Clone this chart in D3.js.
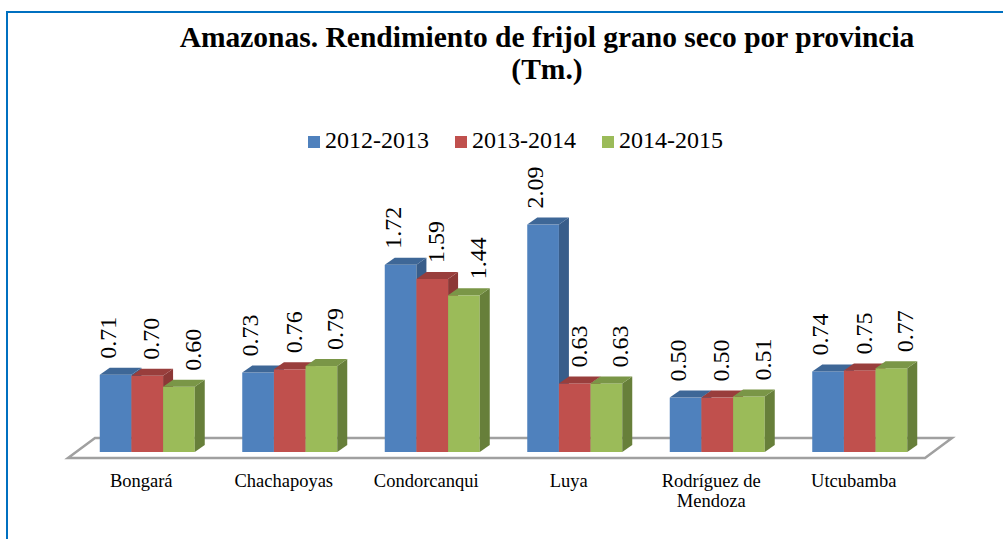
<!DOCTYPE html>
<html>
<head>
<meta charset="utf-8">
<script src="https://cdn.jsdelivr.net/npm/d3@7"></script>
<style>
  body { margin: 0; background: #fff; }
  #chart { width: 1003px; height: 539px; }
</style>
</head>
<body>
<div id="chart"></div>
<script>
// data
const provinces = ["Bongará", "Chachapoyas", "Condorcanqui", "Luya", "Rodríguez de Mendoza", "Utcubamba"];
const seasons = ["2012-2013", "2013-2014", "2014-2015"];
const yield1213 = [0.71, 0.73, 1.72, 2.09, 0.50, 0.74];
const yield1314 = [0.70, 0.76, 1.59, 0.63, 0.50, 0.75];
const yield1415 = [0.60, 0.79, 1.44, 0.63, 0.51, 0.77];
const titleLines = ["Amazonas. Rendimiento de frijol grano seco por provincia", "(Tm.)"];

const colors = {
    front: ["#4F81BD", "#C0504D", "#9BBB59"],
    top:   ["#3E6797", "#993E3C", "#7A9647"],
    side:  ["#385D8A", "#8C3836", "#677F3A"]
};
const serif = "'Liberation Serif'";

const width = 1003, height = 539;
const svg = d3.select("#chart").append("svg")
    .attr("width", width)
    .attr("height", height)
    .attr("font-family", serif);

// outer frame
svg.append("rect")
    .attr("x", 7).attr("y", 12)
    .attr("width", 1200).attr("height", 700)
    .attr("fill", "none")
    .attr("stroke", "#0070C0")
    .attr("stroke-width", 2);

// title
svg.append("g").selectAll("text")
    .data(titleLines)
    .enter().append("text")
    .attr("x", 547)
    .attr("y", (d, i) => 47 + i * 32)
    .attr("text-anchor", "middle")
    .attr("font-family", serif)
    .attr("font-size", 29.5)
    .attr("font-weight", "bold")
    .text(d => d);

// legend
const legend = svg.append("g").selectAll("g")
    .data(seasons)
    .enter().append("g")
    .attr("transform", (d, i) => `translate(${308 + i * 147},0)`);
legend.append("rect")
    .attr("x", 0).attr("y", 136)
    .attr("width", 12).attr("height", 12)
    .attr("fill", (d, i) => colors.front[i]);
legend.append("text")
    .attr("x", 17).attr("y", 148)
    .attr("font-family", serif)
    .attr("font-size", 24)
    .text(d => d);

// scales
const baseY = 452;
const xScale = d3.scaleBand()
    .domain(provinces)
    .range([76, 931]);
const groupW = xScale.bandwidth() * 2 / 3;
const xSub = d3.scaleBand()
    .domain(seasons)
    .range([xScale.bandwidth() / 6, xScale.bandwidth() / 6 + groupW]);
const yScale = d3.scaleLinear()
    .domain([0, 2.5])
    .range([baseY, baseY - 272]);

// floor
const [r0, r1] = xScale.range();
const floorPts = [[r0 - 8, 458], [r1 - 6, 458], [r1 + 21, 438], [r0 + 19, 438]];
svg.append("polygon")
    .attr("points", floorPts.map(p => p.join(",")).join(" "))
    .attr("fill", "#fff")
    .attr("stroke", "#A0A0A0")
    .attr("stroke-width", 2.5);

// rows
const series = [yield1213, yield1314, yield1415];
const rows = [];
provinces.forEach((p, i) => {
    seasons.forEach((s, j) => {
        rows.push({ province: p, season: s, s: j, value: series[j][i] });
    });
});

const dx = 10, dy = 7;
const bw = xSub.bandwidth();
const bx = d => xScale(d.province) + xSub(d.season);

const bars = svg.append("g").selectAll("g")
    .data(rows)
    .enter().append("g");

bars.append("rect")
    .attr("x", d => bx(d))
    .attr("y", d => yScale(d.value))
    .attr("width", bw)
    .attr("height", d => baseY - yScale(d.value))
    .attr("fill", d => colors.front[d.s]);

bars.append("polygon")
    .attr("points", d => {
        const x = bx(d) + bw, t = yScale(d.value);
        return [[x, t], [x + dx, t - dy], [x + dx, baseY - dy], [x, baseY]].map(p => p.join(",")).join(" ");
    })
    .attr("fill", d => colors.side[d.s]);

bars.append("polygon")
    .attr("points", d => {
        const x = bx(d), t = yScale(d.value);
        return [[x, t], [x + dx, t - dy], [x + bw + dx, t - dy], [x + bw, t]].map(p => p.join(",")).join(" ");
    })
    .attr("fill", d => colors.top[d.s]);

// value labels
const labelShift = [0, 12, 22];
svg.append("g").selectAll("text")
    .data(rows)
    .enter().append("text")
    .attr("transform", d => `translate(${bx(d) + bw / 2 + labelShift[d.s]},${yScale(d.value) - 16}) rotate(-90)`)
    .attr("font-family", serif)
    .attr("font-size", 24)
    .text(d => d.value.toFixed(2));

// category labels, wrapped
const catLabels = svg.append("g").selectAll("text")
    .data(provinces)
    .enter().append("text")
    .attr("x", d => xScale(d) + xScale.bandwidth() / 2 - 6)
    .attr("y", 487)
    .attr("text-anchor", "middle")
    .attr("font-family", serif)
    .attr("font-size", 18.5)
    .text(d => d);

catLabels.each(function(d) {
    const t = d3.select(this);
    if (this.getComputedTextLength() <= 130) return;
    const words = d.split(" ");
    const lines = [];
    let line = [];
    t.text(null);
    const probe = t.append("tspan");
    words.forEach(w => {
        line.push(w);
        probe.text(line.join(" "));
        if (probe.node().getComputedTextLength() > 130 && line.length > 1) {
            line.pop();
            lines.push(line.join(" "));
            line = [w];
        }
    });
    lines.push(line.join(" "));
    probe.remove();
    const x = t.attr("x");
    lines.forEach((l, i) => {
        t.append("tspan").attr("x", x).attr("dy", i === 0 ? 0 : 20).text(l);
    });
});
</script>
</body>
</html>
